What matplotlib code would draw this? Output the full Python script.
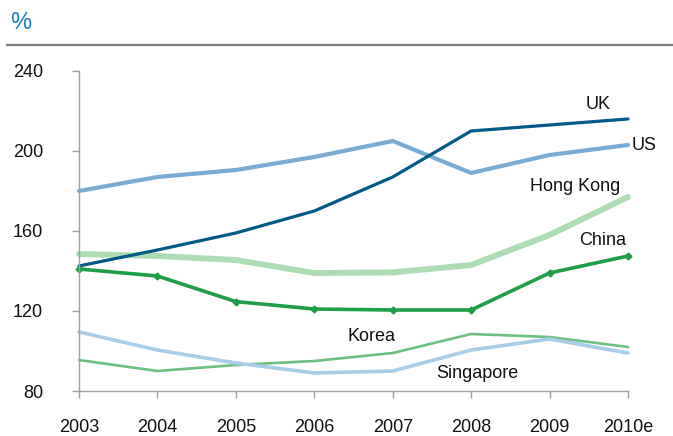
import matplotlib.pyplot as plt
from matplotlib import font_manager

years = ['2003', '2004', '2005', '2006', '2007', '2008', '2009', '2010e']
uk = [142.5, 150.5, 159, 170, 187, 210, 213, 216]
us = [180, 187, 190.5, 197, 205, 189, 198, 203]
hong_kong = [148.5, 147.5, 145.5, 139, 139.3, 143, 158, 177]
china = [141, 137.5, 124.7, 121, 120.5, 120.5, 139, 147.5]
korea = [95.5, 90, 93, 95, 99, 108.5, 107, 102]
singapore = [109.5, 100.5, 94, 89, 90, 100.5, 106, 99]

names = [f.name for f in font_manager.fontManager.ttflist]
fam = 'Liberation Sans Narrow' if 'Liberation Sans Narrow' in names else 'Liberation Sans'
plt.rcParams['font.family'] = [fam, 'DejaVu Sans']

fig = plt.figure(figsize=(6.73, 4.36), dpi=100)
ax = fig.add_axes([0.1174, 0.1032, 0.8157, 0.734])

x = list(range(len(years)))
ax.plot(x, hong_kong, color='#acdcb4', lw=4.3, solid_capstyle='round', clip_on=False)
ax.plot(x, korea, color='#6cc080', lw=1.9, solid_capstyle='round', clip_on=False)
ax.plot(x, singapore, color='#a8cde8', lw=2.6, solid_capstyle='round', clip_on=False)
ax.plot(x, us, color='#78acd4', lw=3, solid_capstyle='round', clip_on=False)
ax.plot(x, uk, color='#005a86', lw=2.3, solid_capstyle='round', clip_on=False)
ax.plot(x, china, color='#1e9e46', lw=2.6, marker='D', ms=3.5, clip_on=False)

lab = dict(fontsize=13, color='#111111', ha='center', va='center')
ax.text(6.62, 223, 'UK', **lab)
ax.text(7.2, 202.5, 'US', **lab)
ax.text(6.32, 182, 'Hong Kong', **lab)
ax.text(6.68, 155, 'China', **lab)
ax.text(3.73, 107.5, 'Korea', **lab)
ax.text(5.08, 89, 'Singapore', **lab)

ax.set_xlim(0, 7)
ax.set_ylim(80, 240)
ax.set_yticks([80, 120, 160, 200, 240])
ax.set_xticks(x)
ax.set_xticklabels(years)
for s in ['top', 'right']:
    ax.spines[s].set_visible(False)
for s in ['left', 'bottom']:
    ax.spines[s].set_color('#a0a0a0')
    ax.spines[s].set_linewidth(1)
ax.tick_params(axis='both', colors='#a0a0a0', labelcolor='#111111', labelsize=13, length=5, width=1)
ax.tick_params(axis='x', pad=15)
ax.tick_params(axis='y', pad=21)

fig.text(0.015, 0.948, '%', color='#1a7fc0', fontsize=17, ha='left', va='center')
fig.add_artist(plt.Line2D([0.01, 1.0], [0.897, 0.897], color='#808080', lw=1.6, transform=fig.transFigure))

fig.savefig('out.png', dpi=100)
